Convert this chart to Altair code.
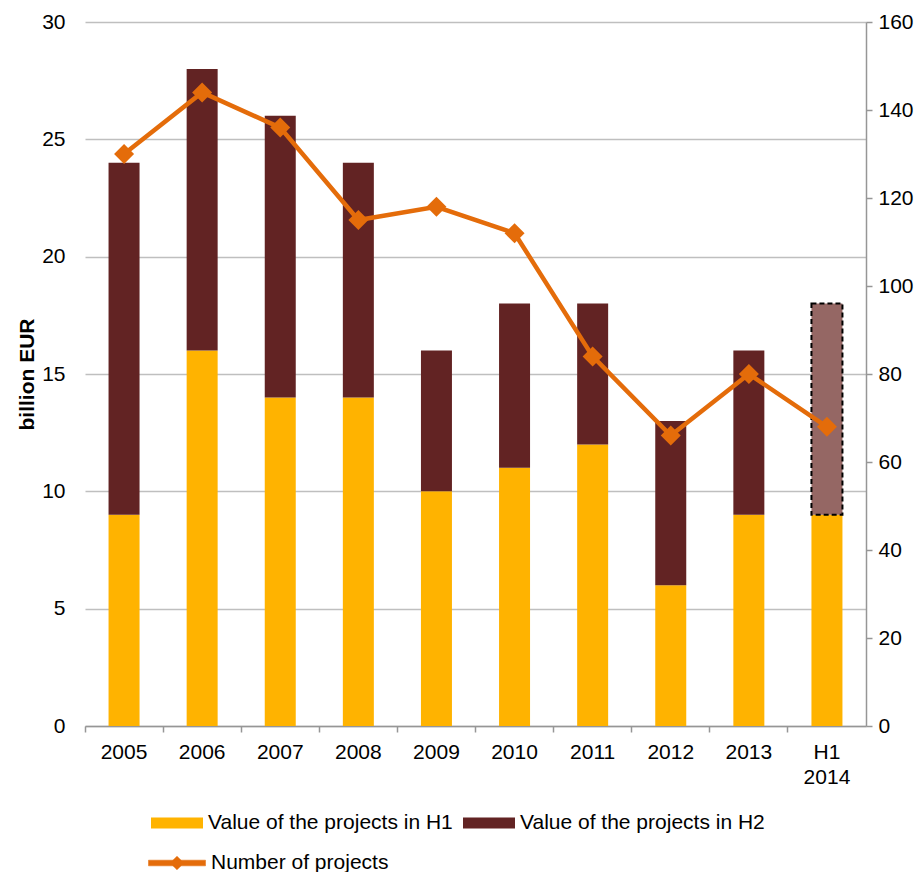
import altair as alt
import pandas as pd

# ---- data ----
years = ["2005", "2006", "2007", "2008", "2009", "2010", "2011", "2012", "2013", "H1 2014"]
h1_values = [9, 16, 14, 14, 10, 11, 12, 6, 9, 9]
h2_values = [15, 12, 12, 10, 6, 7, 6, 7, 7, 9]
projects = [130, 144, 136, 115, 118, 112, 84, 66, 80, 68]
left_ticks = [0, 5, 10, 15, 20, 25, 30]
right_ticks = [0, 20, 40, 60, 80, 100, 120, 140, 160]

H1_LABEL = "Value of the projects in H1"
H2_LABEL = "Value of the projects in H2"
LINE_LABEL = "Number of projects"

YELLOW = "#FFB300"
MAROON = "#622323"
PROJ = "#956764"
ORANGE = "#E46C0A"
GRID = "#BFBFBF"
DOMAIN = "#969696"
FONT = "Liberation Sans"
FS = 21

rows = []
for i, yr in enumerate(years):
    rows.append({"year": yr, "series": H1_LABEL, "start": 0, "end": h1_values[i]})
    if i < len(years) - 1:
        rows.append({"year": yr, "series": H2_LABEL, "start": h1_values[i],
                     "end": h1_values[i] + h2_values[i]})
bars_df = pd.DataFrame(rows)
proj_df = pd.DataFrame([{"year": years[-1], "start": h1_values[-1],
                         "end": h1_values[-1] + h2_values[-1]}])
line_df = pd.DataFrame({"year": years, "projects": projects, "series": LINE_LABEL})

x_enc = alt.X(
    "year:N",
    sort=years,
    scale=alt.Scale(domain=years, paddingInner=0, paddingOuter=0),
    axis=alt.Axis(
        title=None, labelAngle=0, grid=False, domain=True, domainColor=DOMAIN,
        domainWidth=1.5, ticks=True, tickColor=DOMAIN, tickWidth=1.5, tickSize=6,
        bandPosition=0, labelPadding=9, labelFontSize=FS, labelLineHeight=25,
        labelExpr="datum.value == 'H1 2014' ? ['H1', '2014'] : datum.label",
    ),
)

y_left = alt.Y(
    "start:Q",
    scale=alt.Scale(domain=[0, 30], nice=False, zero=True),
    axis=alt.Axis(
        values=left_ticks, title="billion EUR", grid=True, gridColor=GRID,
        gridWidth=1.5, domain=False, ticks=False, labelPadding=20,
        labelFontSize=FS, titleFontSize=FS, titleFontWeight="bold",
        titleX=-52, titleY=352, titleAlign="center", titleBaseline="alphabetic",
    ),
)

bar_symbol = "M-1,-0.21H1V0.21H-1Z"
line_symbol = "M-1,-0.1H1V0.1H-1Z M0,-0.24L0.24,0L0,0.24L-0.24,0Z"

bars = alt.Chart(bars_df).mark_bar(size=31).encode(
    x=x_enc,
    y=y_left,
    y2="end:Q",
    fill=alt.Fill(
        "series:N",
        scale=alt.Scale(domain=[H1_LABEL, H2_LABEL], range=[YELLOW, MAROON]),
        legend=alt.Legend(
            title=None, orient="none", legendX=66, legendY=775, direction="horizontal",
            columns=2, symbolType=bar_symbol, symbolSize=2704, symbolStrokeWidth=0,
            labelFontSize=FS, labelLimit=400, labelOffset=5, columnPadding=10,
        ),
    ),
)

proj_bar = alt.Chart(proj_df).mark_bar(
    size=31, fill=PROJ, stroke="black", strokeWidth=2, strokeDash=[5, 3]
).encode(x=x_enc, y=y_left, y2="end:Q")

y_right = alt.Y(
    "projects:Q",
    scale=alt.Scale(domain=[0, 160], nice=False),
    axis=alt.Axis(
        orient="right", values=right_ticks, title=None, grid=False, domain=True,
        domainColor=DOMAIN, domainWidth=1.5, ticks=True, tickColor=DOMAIN,
        tickWidth=1.5, tickSize=6, labelPadding=6, labelFontSize=FS,
    ),
)

line = alt.Chart(line_df).mark_line(strokeWidth=4.5).encode(
    x=x_enc,
    y=y_right,
    stroke=alt.Stroke(
        "series:N",
        scale=alt.Scale(domain=[LINE_LABEL], range=[ORANGE]),
        legend=alt.Legend(
            title=None, orient="none", legendX=63, legendY=812,
            symbolType=line_symbol, symbolSize=3249,
            symbolFillColor=ORANGE, symbolStrokeColor=ORANGE, symbolStrokeWidth=0.5,
            labelFontSize=FS, labelLimit=400, labelOffset=5,
        ),
    ),
)

points = alt.Chart(line_df).mark_point(
    shape="diamond", filled=True, size=400, color=ORANGE, opacity=1
).encode(x=x_enc, y=y_right)

left = alt.layer(bars, proj_bar)
right = alt.layer(line, points)

chart = (
    alt.layer(left, right)
    .resolve_scale(y="independent")
    .properties(
        width=781, height=704,
        autosize=alt.AutoSizeParams(type="none"),
        padding={"left": 77, "top": 14, "right": 48, "bottom": 146},
    )
    .configure_view(stroke=None)
    .configure_axis(labelFont=FONT, titleFont=FONT, labelColor="#000000", titleColor="#000000")
    .configure_legend(labelFont=FONT, labelColor="#000000")
)

chart.save("out.html", embed_options={"renderer": "svg", "actions": False})
